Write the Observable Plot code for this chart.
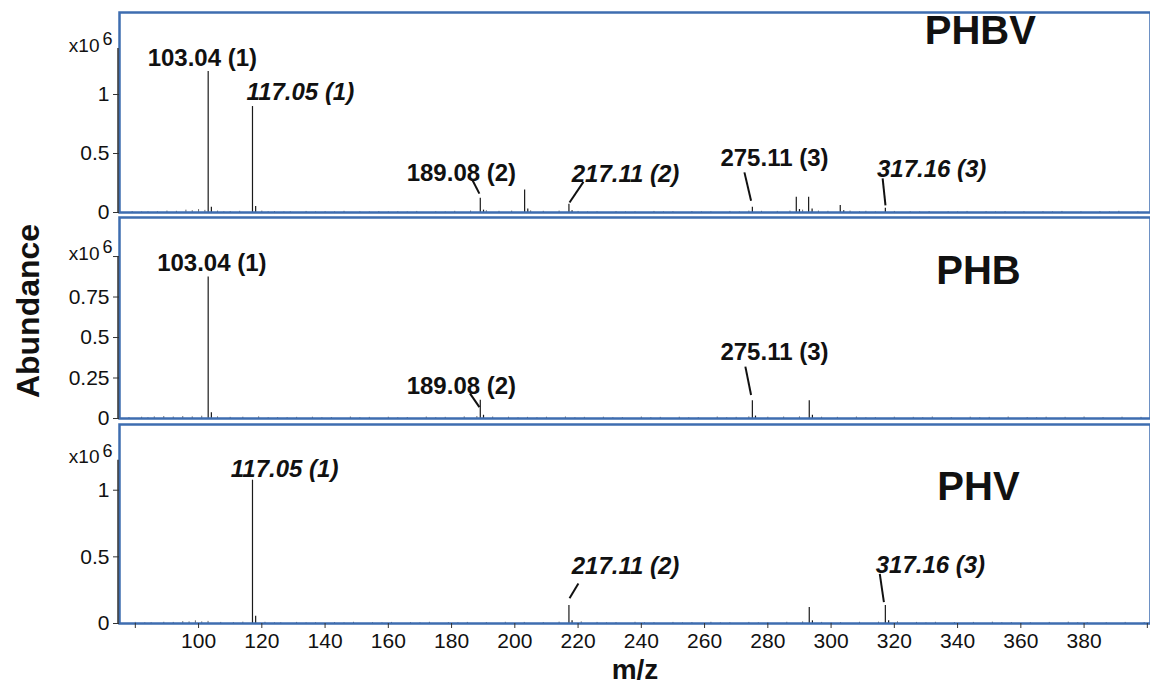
<!DOCTYPE html>
<html><head><meta charset="utf-8">
<script src="https://cdn.jsdelivr.net/npm/d3@7"></script>
<script src="https://cdn.jsdelivr.net/npm/@observablehq/plot@0.6"></script>
<style>
body{margin:0;background:#fff;}
#chart{position:relative;width:1150px;height:693px;overflow:hidden;background:#fff;}
.panel{position:absolute;left:0;}
</style></head><body><div id="chart"></div>
<script>
// ---------- DATA ----------
const panelNames = ["PHBV", "PHB", "PHV"];
const xTicks = [80,100,120,140,160,180,200,220,240,260,280,300,320,340,360,380,400];
const xTickLabels = ["","100","120","140","160","180","200","220","240","260","280","300","320","340","360","380",""];
const yTicks1 = [0, 0.5, 1];
const yTickLabels1 = ["0", "0.5", "1"];
const yTicks2 = [0, 0.25, 0.5, 0.75, 1];
const yTickLabels2 = ["0", "0.25", "0.5", "0.75", ""];
const yTicks3 = [0, 0.5, 1];
const yTickLabels3 = ["0", "0.5", "1"];
const yAxisTops = [1.39, 1.0, 1.225];
const yDomainTops = [1.695, 1.241, 1.493];

// main peaks [m/z, abundance x10^6]
const phbvPeaks = [[103.04,1.195],[104.05,0.045],[117.05,0.898],[118.05,0.05],[189.08,0.12],[190.1,0.02],[203.1,0.19],[204.1,0.03],[217.11,0.07],[218.1,0.015],[275.11,0.045],[289.0,0.13],[290.0,0.025],[292.9,0.13],[294.0,0.03],[302.9,0.06],[304.0,0.015],[317.16,0.035]];
const phbPeaks = [[103.04,0.874],[104.05,0.035],[189.08,0.113],[190.1,0.02],[275.11,0.109],[276.1,0.015],[293.1,0.109],[294.1,0.02]];
const phvPeaks = [[117.05,1.075],[118.05,0.055],[217.11,0.135],[218.1,0.02],[293.1,0.12],[294.1,0.02],[317.16,0.135],[318.2,0.02]];

// small baseline peaks
const phbvNoise = [[79,0.008],[82,0.005],[84,0.006],[87,0.007],[90,0.012],[93,0.01],[96,0.02],[98,0.015],[100,0.025],[102,0.018],[106,0.012],[108,0.006],[110,0.008],[113,0.01],[120,0.012],[122,0.006],[124,0.008],[127,0.005],[129,0.006],[134,0.009],[137,0.005],[140,0.007],[143,0.005],[146,0.01],[151,0.006],[154,0.005],[157,0.008],[160,0.005],[163,0.007],[166,0.005],[169,0.009],[175,0.006],[178,0.005],[181,0.01],[186,0.012],[191,0.015],[195,0.01],[199,0.012],[205,0.014],[209,0.01],[214,0.012],[220,0.009],[223,0.005],[226,0.007],[232,0.008],[235,0.005],[238,0.006],[244,0.009],[247,0.005],[250,0.007],[256,0.008],[259,0.005],[262,0.006],[268,0.009],[271,0.005],[274,0.012],[278,0.01],[283,0.009],[287,0.012],[291,0.02],[296,0.012],[299,0.01],[306,0.012],[309,0.006],[311,0.01],[314,0.005],[320,0.009],[325,0.007],[328,0.005],[331,0.008],[337,0.006],[340,0.005],[343,0.009],[349,0.007],[352,0.005],[355,0.008],[361,0.006],[367,0.007],[370,0.005],[373,0.009],[379,0.006],[385,0.008],[388,0.005],[391,0.01],[397,0.006]];
const phbNoise = [[78,0.006],[82,0.008],[84,0.005],[86,0.01],[89,0.012],[92,0.009],[95,0.012],[98,0.01],[101,0.014],[106,0.01],[110,0.007],[114,0.008],[119,0.01],[122,0.005],[125,0.006],[128,0.005],[131,0.007],[136,0.008],[139,0.005],[142,0.006],[148,0.009],[151,0.005],[154,0.007],[160,0.008],[163,0.005],[166,0.006],[172,0.009],[175,0.005],[178,0.007],[184,0.01],[188,0.012],[193,0.009],[198,0.008],[201,0.005],[204,0.007],[207,0.005],[210,0.008],[216,0.009],[219,0.005],[222,0.007],[228,0.008],[231,0.005],[234,0.006],[240,0.009],[243,0.005],[246,0.007],[252,0.008],[255,0.005],[258,0.006],[264,0.009],[267,0.005],[270,0.007],[274,0.01],[280,0.008],[285,0.009],[290,0.01],[297,0.008],[302,0.007],[308,0.009],[311,0.005],[314,0.006],[320,0.008],[326,0.007],[329,0.005],[332,0.009],[338,0.006],[344,0.008],[347,0.005],[350,0.007],[356,0.009],[362,0.006],[365,0.005],[368,0.008],[374,0.007],[380,0.009],[386,0.006],[392,0.008],[398,0.007]];
const phvNoise = [[80,0.008],[83,0.005],[85,0.006],[89,0.009],[92,0.008],[95,0.014],[97,0.012],[99,0.02],[101,0.012],[103,0.016],[107,0.008],[111,0.007],[114,0.01],[121,0.009],[124,0.005],[126,0.006],[131,0.008],[134,0.005],[137,0.006],[143,0.007],[146,0.005],[149,0.009],[155,0.006],[158,0.005],[161,0.008],[167,0.007],[170,0.005],[173,0.009],[179,0.006],[182,0.005],[185,0.008],[191,0.007],[197,0.009],[203,0.008],[209,0.007],[214,0.01],[221,0.012],[226,0.008],[229,0.005],[232,0.007],[238,0.009],[241,0.005],[244,0.006],[250,0.008],[253,0.005],[256,0.007],[262,0.009],[265,0.005],[268,0.006],[274,0.008],[277,0.005],[280,0.007],[286,0.009],[291,0.012],[297,0.008],[300,0.005],[303,0.007],[309,0.009],[315,0.01],[321,0.012],[327,0.008],[330,0.005],[333,0.009],[339,0.007],[345,0.008],[351,0.01],[354,0.006],[357,0.007],[363,0.006],[369,0.008],[375,0.01],[378,0.006],[381,0.007],[387,0.006],[393,0.008],[399,0.007]];

// peak annotations [text, x, y, italic]
const phbvLabels = [["103.04 (1)",101.2,1.31,false],["117.05 (1)",132.2,1.02,true],["189.08 (2)",183.1,0.33,false],["217.11 (2)",235.0,0.32,true],["275.11 (3)",282.1,0.46,false],["317.16 (3)",331.8,0.37,true]];
const phbLabels = [["103.04 (1)",104.2,0.96,false],["189.08 (2)",183.1,0.20,false],["275.11 (3)",282.1,0.41,false]];
const phvLabels = [["117.05 (1)",127.2,1.155,true],["217.11 (2)",235.0,0.43,true],["317.16 (3)",331.4,0.435,true]];
// leader lines [x1, y1, x2, y2]
const phbvLeaders = [[186.5,0.28,188.8,0.16],[221.7,0.26,217.3,0.085],[272.6,0.34,274.7,0.10],[316.3,0.29,317.2,0.06]];
const phbLeaders = [[185.8,0.155,188.8,0.07],[272.9,0.32,274.7,0.145]];
const phvLeaders = [[220.1,0.30,217.3,0.19],[315.4,0.373,316.7,0.16]];
// panel-name positions [x, y]
const namePos = [[347.2,1.54],[346.6,0.91],[346.6,1.02]];

// ---------- DRAW ----------
const FONT = "Liberation Sans, Arial, Helvetica, sans-serif";
const frameBlue = "#3e6db0";
const xDomain = [75, 401];
const toObj = a => a.map(([mz, ab]) => ({mz, ab}));
const toLab = a => a.map(([t, x, y, it]) => ({t, x, y, it}));
const toLead = a => a.map(([x1, y1, x2, y2]) => ({x1, y1, x2, y2}));

const panels = [
  {peaks: phbvPeaks, noise: phbvNoise, labels: phbvLabels, leaders: phbvLeaders, yt: yTicks1, ytl: yTickLabels1, top: 0, h: 215, mt: 12, mb: 3},
  {peaks: phbPeaks, noise: phbNoise, labels: phbLabels, leaders: phbLeaders, yt: yTicks2, ytl: yTickLabels2, top: 215, h: 208, mt: 2, mb: 5},
  {peaks: phvPeaks, noise: phvNoise, labels: phvLabels, leaders: phvLeaders, yt: yTicks3, ytl: yTickLabels3, top: 422, h: 271, mt: 2, mb: 70}
];

const chart = document.getElementById("chart");
panels.forEach((p, i) => {
  const labs = toLab(p.labels);
  const yFmt = new Map(p.yt.map((v, k) => [v, p.ytl[k]]));
  const xFmt = new Map(xTicks.map((v, k) => [v, xTickLabels[k]]));
  const marks = [
    Plot.ruleX(toObj(p.noise), {x: "mz", y1: 0, y2: "ab", stroke: "#444", strokeWidth: 0.8}),
    Plot.ruleX(toObj(p.peaks), {x: "mz", y1: 0, y2: "ab", stroke: "#1a1a1a", strokeWidth: 1.2}),
    Plot.frame({stroke: frameBlue, strokeWidth: 2.5}),
    Plot.ruleX([xDomain[0]], {y1: 0, y2: yAxisTops[i], stroke: "#333", strokeWidth: 1.5, dx: -1.5}),
    Plot.axisY({ticks: p.yt, tickFormat: d => yFmt.get(d), tickSize: 6, tickPadding: 4, fontSize: 21, stroke: "#333", color: "#111", label: null, anchor: "left"}),
    Plot.text(["x10"], {x: xDomain[0], y: yAxisTops[i], text: d => d, textAnchor: "end", dx: -20, dy: -3, fontSize: 19, fill: "#111"}),
    Plot.text(["6"], {x: xDomain[0], y: yAxisTops[i], text: d => d, textAnchor: "start", dx: -17, dy: -9, fontSize: 18, fill: "#111"}),
    Plot.link(toLead(p.leaders), {x1: "x1", y1: "y1", x2: "x2", y2: "y2", stroke: "#111", strokeWidth: 2}),
    Plot.text(labs.filter(d => !d.it), {x: "x", y: "y", text: "t", fontSize: 24, fontWeight: "bold", fill: "#111"}),
    Plot.text(labs.filter(d => d.it), {x: "x", y: "y", text: "t", fontSize: 24, fontWeight: "bold", fontStyle: "italic", fill: "#111"}),
    Plot.text([panelNames[i]], {x: namePos[i][0], y: namePos[i][1], text: d => d, fontSize: 40, fontWeight: "bold", fill: "#111"})
  ];
  if (i === 1) {
    marks.push(Plot.text(["Abundance"], {frameAnchor: "left", textAnchor: "middle", text: d => d, dx: -91, dy: -7, rotate: -90, fontSize: 32, fontWeight: "bold", fill: "#111"}));
  }
  if (i === 2) {
    marks.push(Plot.axisX({ticks: xTicks, tickFormat: d => xFmt.get(d), tickSize: 5, tickPadding: 5, fontSize: 21, stroke: "#333", color: "#111", label: null, anchor: "bottom"}));
    marks.push(Plot.text(["m/z"], {frameAnchor: "bottom", text: d => d, dy: 55, fontSize: 28, fontWeight: "bold", fill: "#111"}));
  }
  const svg = Plot.plot({
    width: 1150, height: p.h,
    marginLeft: 119, marginRight: 0, marginTop: p.mt, marginBottom: p.mb,
    x: {domain: xDomain, axis: null},
    y: {domain: [0, yDomainTops[i]], axis: null},
    style: {fontFamily: FONT, overflow: "visible", background: "transparent"},
    marks
  });
  const div = document.createElement("div");
  div.className = "panel";
  div.style.top = p.top + "px";
  div.appendChild(svg);
  chart.appendChild(div);
});
</script></body></html>
